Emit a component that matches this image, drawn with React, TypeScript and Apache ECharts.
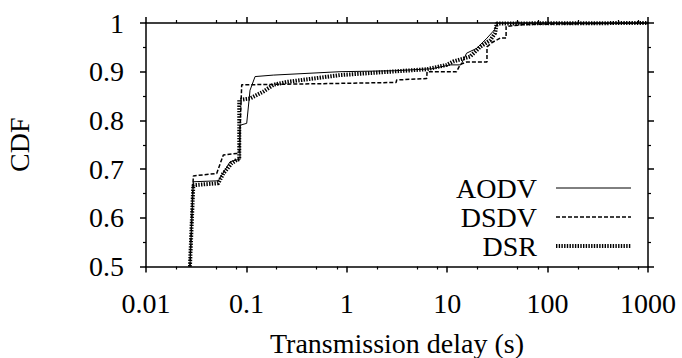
import React, { useEffect, useRef } from "react";
import * as echarts from "echarts";

const seriesNames = ["AODV", "DSDV", "DSR"];

const delayMajorTicks = [0.01, 0.1, 1, 10, 100, 1000];
const delayMinorTicks = [
  0.02, 0.05, 0.08, 0.2, 0.5, 0.8, 2, 5, 8, 20, 50, 80, 200, 500, 800,
];

const aodvDelay = [0.0274, 0.0296, 0.0525, 0.0687, 0.08, 0.0863, 0.0863, 0.1007, 0.1087, 0.122, 0.185, 0.855, 3.0, 7.0, 10.7, 13.7, 15.6, 19.7, 24.9, 29.6, 31, 32, 1000];
const aodvCdf = [0.5, 0.674, 0.676, 0.715, 0.719, 0.719, 0.79, 0.794, 0.862, 0.89, 0.893, 0.9, 0.902, 0.906, 0.914, 0.914, 0.938, 0.948, 0.969, 0.986, 0.996, 1.0, 1.0];

const dsdvDelay = [0.0274, 0.0296, 0.0506, 0.0589, 0.08, 0.0846, 0.0898, 0.855, 3.1, 3.14, 6.25, 6.3, 12.4, 13.5, 15.6, 24.9, 24.9, 28, 33.7, 38.6, 38.6, 60, 1000];
const dsdvCdf = [0.5, 0.686, 0.691, 0.729, 0.732, 0.732, 0.873, 0.876, 0.878, 0.883, 0.886, 0.9, 0.9, 0.915, 0.92, 0.92, 0.951, 0.96, 0.969, 0.969, 0.993, 0.997, 1.0];

const dsrDelay = [0.0274, 0.0296, 0.0525, 0.0589, 0.0714, 0.08, 0.0849, 0.0849, 0.1087, 0.147, 0.185, 0.252, 0.855, 2.69, 6.25, 9.9, 11.5, 16.9, 21.3, 26.9, 30.0, 31.1, 1000];
const dsrCdf = [0.5, 0.667, 0.671, 0.691, 0.712, 0.719, 0.72, 0.842, 0.845, 0.859, 0.873, 0.879, 0.893, 0.9, 0.905, 0.914, 0.921, 0.931, 0.951, 0.965, 0.979, 0.999, 1.0];

const FONT = "'Liberation Serif', 'Times New Roman', serif";
const FS = 28;
const BLACK = "#000";

const styles: Record<string, { width: number; type: any }> = {
  AODV: { width: 1, type: "solid" },
  DSDV: { width: 1.5, type: [4, 2] },
  DSR: { width: 4, type: [1.4, 1.3] },
};

function pairs(xs: number[], ys: number[]) {
  return xs.map((x, i) => [x, ys[i]]);
}

function fmtDelay(v: number) {
  if (v >= 1) return String(Math.round(v));
  return String(parseFloat(v.toPrecision(1)));
}

export default function App() {
  const ref = useRef<HTMLDivElement>(null);

  useEffect(() => {
    if (!ref.current) return;
    const chart = echarts.init(ref.current, undefined, { renderer: "svg" });

    const axisLine = { show: true, lineStyle: { color: BLACK, width: 1.5 } };
    const logBase = { type: "log" as const, min: 0.01, max: 1000, logBase: 10, gridIndex: 0 };

    const mkSeries = (name: string, xs: number[], ys: number[], z: number) => ({
      name,
      type: "line",
      xAxisIndex: 0,
      yAxisIndex: 0,
      data: pairs(xs, ys),
      symbol: "none",
      showSymbol: false,
      z,
      clip: true,
      lineStyle: { color: BLACK, width: styles[name].width, type: styles[name].type },
      itemStyle: { color: BLACK },
    });

    chart.setOption({
      animation: false,
      backgroundColor: "#fff",
      textStyle: { fontFamily: FONT, color: BLACK },
      grid: { left: 146, right: 34, top: 23, bottom: 91.5, containLabel: false, outerBoundsMode: "none" },
      legend: {
        data: seriesNames.map((n) => ({
          name: n,
          itemStyle: { opacity: 0 },
          lineStyle: { color: BLACK, width: styles[n].width, type: styles[n].type },
        })),
        orient: "vertical",
        right: 49,
        top: 174,
        padding: 0,
        align: "right",
        itemWidth: 75,
        itemHeight: 20,
        itemGap: 1,
        itemStyle: { opacity: 0 },
        textStyle: { fontFamily: FONT, fontSize: FS, color: BLACK, padding: [0, 14, 0, 0] },
      },
      xAxis: [
        {
          ...logBase,
          position: "bottom",
          name: "Transmission delay (s)",
          nameLocation: "middle",
          nameGap: 63,
          nameTextStyle: { fontFamily: FONT, fontSize: FS, color: BLACK },
          axisLine,
          axisTick: { show: true, inside: false, length: 6, customValues: delayMajorTicks, lineStyle: { color: BLACK, width: 1.5 } },
          axisLabel: { show: true, customValues: delayMajorTicks, margin: 23, fontFamily: FONT, fontSize: FS, color: BLACK, formatter: (v: number) => fmtDelay(v) },
          splitLine: { show: false },
          minorTick: { show: false },
        },
        {
          ...logBase,
          position: "bottom",
          axisLine: { show: false },
          axisTick: { show: true, inside: false, length: 3, customValues: delayMinorTicks, lineStyle: { color: BLACK, width: 1.2 } },
          axisLabel: { show: false },
          splitLine: { show: false },
        },
        {
          ...logBase,
          position: "top",
          axisLine,
          axisTick: { show: true, inside: false, length: 6, customValues: delayMajorTicks, lineStyle: { color: BLACK, width: 1.5 } },
          axisLabel: { show: false },
          splitLine: { show: false },
        },
        {
          ...logBase,
          position: "top",
          axisLine: { show: false },
          axisTick: { show: true, inside: false, length: 3, customValues: delayMinorTicks, lineStyle: { color: BLACK, width: 1.2 } },
          axisLabel: { show: false },
          splitLine: { show: false },
        },
      ],
      yAxis: [
        {
          type: "value",
          position: "left",
          min: 0.5,
          max: 1,
          interval: 0.1,
          name: "CDF",
          nameLocation: "middle",
          nameGap: 113,
          nameRotate: 90,
          nameTextStyle: { fontFamily: FONT, fontSize: FS, color: BLACK },
          axisLine,
          axisTick: { show: true, inside: false, length: 6, lineStyle: { color: BLACK, width: 1.5 } },
          minorTick: { show: true, splitNumber: 2, length: 3, lineStyle: { color: BLACK, width: 1.2 } },
          axisLabel: { show: true, margin: 22, fontFamily: FONT, fontSize: FS, color: BLACK, formatter: (v: number) => String(parseFloat(v.toFixed(1))) },
          splitLine: { show: false },
        },
        {
          type: "value",
          position: "right",
          min: 0.5,
          max: 1,
          interval: 0.1,
          axisLine,
          axisTick: { show: true, inside: false, length: 6, lineStyle: { color: BLACK, width: 1.5 } },
          minorTick: { show: true, splitNumber: 2, length: 3, lineStyle: { color: BLACK, width: 1.2 } },
          axisLabel: { show: false },
          splitLine: { show: false },
        },
      ],
      series: [
        mkSeries("AODV", aodvDelay, aodvCdf, 4),
        mkSeries("DSDV", dsdvDelay, dsdvCdf, 3),
        mkSeries("DSR", dsrDelay, dsrCdf, 2),
      ],
    });

    return () => chart.dispose();
  }, []);

  return (
    <div
      ref={ref}
      style={{ position: "fixed", left: 0, top: 0, width: 682, height: 358, background: "#fff" }}
    />
  );
}
